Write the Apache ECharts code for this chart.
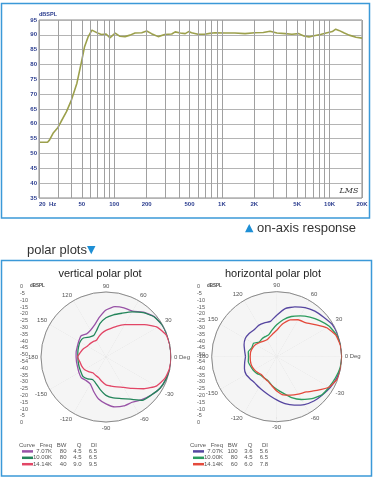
<!DOCTYPE html>
<html><head><meta charset="utf-8">
<script src="https://cdn.jsdelivr.net/npm/echarts@6/dist/echarts.min.js"></script>
<style>html,body{margin:0;padding:0;background:#fff}#c{width:375px;height:481px}</style>
</head><body><div id="c"></div>
<script>
// ---------- on-axis response ----------
const freqs = [20,24,25,27,30,32,36,40,45,50,53,57,62,64,71,76,84,91,102,113,126,140,156,180,200,222,256,294,342,368,410,456,491,522,600,690,772,862,1070,1320,1640,2020,2420,2800,3240,3870,4470,5170,5770,6430,7170,8220,9500,10600,11400,12200,13700,15200,17600,20000];
const spl = [53.8,53.8,54.5,56.8,58.8,60.7,64.1,68,73.7,81.5,86,89.2,91.6,91.9,90.5,90.1,90.3,89,90.6,89.5,89.4,89.9,90.6,90.7,91.3,90.4,89.4,90.1,90.3,91,90.6,90.4,91.1,90.7,90.2,90.2,90.5,90.7,90.6,90.6,90.4,90.7,90.8,91.2,90.6,90.4,90.2,90.4,89.6,89.3,89.7,90.1,90.7,91.1,91.9,91.5,90.6,89.9,89.2,88.9];
const gridFreqs = [20,30,40,50,60,70,80,90,100,200,300,400,500,600,700,800,900,1000,2000,3000,4000,5000,6000,7000,8000,9000,10000,20000];
const labelFreqs = [20,50,100,200,500,1000,2000,5000,10000,20000];
const labelTexts = ['20  Hz','50','100','200','500','1K','2K','5K','10K','20K'];

// ---------- polar plots ----------
const polarAngles = [-180,-170,-160,-150,-140,-130,-120,-110,-100,-90,-80,-70,-60,-50,-40,-30,-20,-10,0,10,20,30,40,50,60,70,80,90,100,110,120,130,140,150,160,170,180];
const vert7k  = [-27,-27,-26.8,-26,-25.2,-26.3,-26,-22,-17.2,-14,-11,-9.9,-9.8,-7.2,-4.5,-2,-0.8,0,0,0,0,-0.3,-1.6,-5,-9.3,-9.7,-10.7,-13.8,-19.3,-24,-26.2,-26.8,-24.8,-25.8,-26.5,-26.7,-27];
const vert10k = [-28.3,-28.3,-28,-27.6,-26.8,-28,-29.8,-28,-24.5,-20.5,-18,-16,-12.5,-6.5,-4.5,-2,-0.8,0,0,0,0,-0.3,-1.8,-5.5,-10,-14.2,-17,-19.8,-23.8,-28.5,-31,-30,-27.3,-26.9,-27.5,-28,-28.3];
const vert14k = [-28,-29.5,-30,-30.8,-32.5,-34.2,-33.8,-33.2,-31,-28.5,-27.3,-25.5,-23,-18.5,-12,-5.3,-1.8,-0.3,0,0,-0.6,-4.3,-11.3,-17.4,-21.3,-24.7,-27.6,-29.5,-31.5,-33.5,-35.2,-34.6,-34,-33.4,-31.5,-30,-28];
const horiz7k  = [-26,-25,-23.6,-22.8,-23.4,-23.7,-22.8,-21.5,-19.5,-16.8,-13.3,-10.4,-7.5,-5.5,-4.2,-2.5,-1,-0.2,0,0,0,-0.6,-2.8,-4.3,-6.4,-9.2,-12.4,-18.1,-22.4,-22.3,-22.2,-23,-22.3,-22.1,-23.3,-25,-26];
const horiz10k = [-28.3,-27.8,-28.6,-29.2,-30,-31.2,-31,-30.4,-27.8,-25,-21.5,-16.5,-12,-7.8,-4.5,-3.4,-2,-0.5,0,0,-1,-3.3,-6.8,-10.3,-13.8,-17.1,-21.1,-25.5,-29.2,-32,-32.2,-32.2,-32.5,-29.4,-29.7,-27.8,-28.3];
const horiz14k = [-29.6,-29.5,-29.5,-30.1,-31,-31.9,-31,-30,-27.5,-23.7,-20.2,-18.6,-16.8,-14.6,-9.6,-3.3,-0.3,0,0,-0.2,-1.6,-5.5,-11.6,-15.7,-17.2,-19.8,-24.5,-29.6,-32.3,-34,-35,-34.4,-33,-31.3,-30.3,-29.6,-29.6];
const dbScaleLabels = ['0','-5','-10','-15','-20','-25','-30','-35','-40','-45','-50','-54','-40','-35','-30','-25','-20','-15','-10','-5','0'];

// ---------- curve tables ----------
const tableHeader = ['Curve','Freq','BW','Q','DI'];
const curveFreqs = ['7.07K','10.00K','14.14K'];
const vertBW = ['80','80','40'], vertQ = ['4.5','4.5','9.0'], vertDI = ['6.5','6.5','9.5'];
const horizBW = ['100','80','60'], horizQ = ['3.6','4.5','6.0'], horizDI = ['5.6','6.5','7.8'];
const vertColors = ['#9852a6','#23855a','#e24666'];
const horizColors = ['#5646a0','#2c9c5e','#e44a3c'];

const FONT = '"Liberation Sans", Arial, sans-serif';
const NAVY = '#2a3c8e';

function tableText(bw, q, di) {
  let s = `{c|${tableHeader[0]}}{fh|${tableHeader[1]}}{b|${tableHeader[2]}}{q|${tableHeader[3]}}{d|${tableHeader[4]}}`;
  for (let i = 0; i < curveFreqs.length; i++) {
    s += `\n{s${i}|}{f|${curveFreqs[i]}}{b|${bw[i]}}{q|${q[i]}}{d|${di[i]}}`;
  }
  return s;
}
function tableRich(colors) {
  const base = {fontSize: 6, fontFamily: FONT, fill: '#555', lineHeight: 6.4, align: 'right'};
  const r = {
    c: Object.assign({}, base, {width: 13}),
    fh: Object.assign({}, base, {width: 17}),
    f: Object.assign({}, base, {width: 19}),
    b: Object.assign({}, base, {width: 14.5}),
    q: Object.assign({}, base, {width: 15}),
    d: Object.assign({}, base, {width: 15.5})
  };
  colors.forEach((col, i) => { r['s' + i] = {width: 11, height: 2.5, backgroundColor: col, align: 'right', lineHeight: 6.4}; });
  return r;
}

const chart = echarts.init(document.getElementById('c'), null, {renderer: 'canvas', width: 375, height: 481});

function polarAngle(idx) {
  return {
    polarIndex: idx, type: 'value', min: -180, max: 180, interval: 30,
    startAngle: 180, clockwise: false,
    axisLine: {lineStyle: {color: '#8a8a8a', width: 1}},
    axisTick: {show: false},
    splitLine: {lineStyle: {color: '#c6c6c6', width: 0.8}},
    splitArea: {show: true, areaStyle: {color: ['#f5f5f5', '#f5f5f5']}},
    axisLabel: {fontSize: 6, color: '#555', fontFamily: FONT, margin: 3,
      formatter: v => v === 180 ? '' : (v === 0 ? '0 Deg' : String(v))}
  };
}
function polarRadius(idx) {
  return {
    polarIndex: idx, type: 'value', min: -50, max: 0, interval: 5,
    axisLine: {show: false}, axisTick: {show: false}, axisLabel: {show: false},
    splitLine: {lineStyle: {color: '#d2d2d2', width: 0.8}}
  };
}
function polarSeries(idx, vals, color, name) {
  return {
    name, type: 'line', coordinateSystem: 'polar', polarIndex: idx,
    symbol: 'none', smooth: 0.15,
    lineStyle: {color, width: 1.3}, itemStyle: {color},
    data: polarAngles.map((a, i) => [vals[i], a])
  };
}
function scaleAxis(gi) {
  return {
    type: 'value', gridIndex: gi, min: 0, max: dbScaleLabels.length - 1, interval: 1, inverse: true,
    axisLine: {show: false}, axisTick: {show: false}, splitLine: {show: false},
    axisLabel: {inside: true, margin: 0, fontSize: 5.5, color: '#555', fontFamily: FONT,
      formatter: v => dbScaleLabels[v] !== undefined ? dbScaleLabels[v] : ''}
  };
}

const option = {
  animation: false,
  backgroundColor: '#fff',
  grid: [
    {left: 39, top: 20, width: 323, height: 178, show: true, borderColor: '#888', borderWidth: 1, backgroundColor: 'transparent'},
    {left: 20, top: 286.7, width: 1, height: 136},
    {left: 197, top: 286.7, width: 1, height: 136}
  ],
  xAxis: [
    {type: 'log', logBase: 10, min: 20, max: 20000, gridIndex: 0,
      axisLine: {show: false}, axisTick: {show: false}, axisLabel: {show: false}, splitLine: {show: false}},
    {type: 'value', gridIndex: 1, show: false},
    {type: 'value', gridIndex: 2, show: false}
  ],
  yAxis: [
    {type: 'value', gridIndex: 0, min: 35, max: 95, interval: 5,
      name: 'dBSPL', nameLocation: 'end', nameGap: 3,
      nameTextStyle: {fontSize: 5.5, fontWeight: 'bold', color: NAVY, align: 'left', fontFamily: FONT},
      axisLine: {show: false}, axisTick: {show: false},
      splitLine: {lineStyle: {color: '#b4b4b4', width: 1}},
      axisLabel: {fontSize: 6, fontWeight: 'bold', color: NAVY, margin: 2, fontFamily: FONT}},
    scaleAxis(1),
    scaleAxis(2)
  ],
  polar: [
    {center: [106, 357], radius: 65},
    {center: [276.7, 356.7], radius: 65}
  ],
  angleAxis: [polarAngle(0), polarAngle(1)],
  radiusAxis: [polarRadius(0), polarRadius(1)],
  series: [
    {
      name: 'on-axis', type: 'line', xAxisIndex: 0, yAxisIndex: 0, symbol: 'none',
      lineStyle: {color: '#9ca04c', width: 1.6}, itemStyle: {color: '#9ca04c'},
      data: freqs.map((f, i) => [f, spl[i]]),
      markLine: {
        silent: true, symbol: ['none', 'none'], animation: false,
        lineStyle: {color: '#a0a0a0', width: 1, type: 'solid'},
        label: {show: false},
        emphasis: {disabled: true},
        data: gridFreqs.map(f => {
          const k = labelFreqs.indexOf(f);
          if (k < 0) return {xAxis: f};
          const lab = {show: true, position: 'start', formatter: '{b}', distance: 3,
            fontSize: 6, fontWeight: 'bold', color: NAVY, fontFamily: FONT};
          if (f === labelFreqs[0]) lab.align = 'left';
          return {xAxis: f, name: labelTexts[k], label: lab};
        })
      }
    },
    polarSeries(0, vert7k, vertColors[0], 'v7.07K'),
    polarSeries(0, vert10k, vertColors[1], 'v10.00K'),
    polarSeries(0, vert14k, vertColors[2], 'v14.14K'),
    polarSeries(1, horiz7k, horizColors[0], 'h7.07K'),
    polarSeries(1, horiz10k, horizColors[1], 'h10.00K'),
    polarSeries(1, horiz14k, horizColors[2], 'h14.14K')
  ],
  graphic: [
    {type: 'rect', silent: true, z: -10, shape: {x: 1.5, y: 3.5, width: 368, height: 214.5}, style: {fill: 'none', stroke: '#3b99d8', lineWidth: 1.5}},
    {type: 'rect', silent: true, z: -10, shape: {x: 1.5, y: 260.5, width: 370, height: 215.5}, style: {fill: 'none', stroke: '#3b99d8', lineWidth: 1.5}},
    {type: 'text', x: 245, y: 228, style: {text: '{t|▲} on-axis response', fontSize: 13, fontFamily: FONT, fill: '#333', verticalAlign: 'middle', align: 'left',
      rich: {t: {fontSize: 11, fill: '#1e8fd5', fontFamily: 'DejaVu Sans'}}}},
    {type: 'text', x: 27, y: 250, style: {text: 'polar plots{t|▼}', fontSize: 13, fontFamily: FONT, fill: '#333', verticalAlign: 'middle', align: 'left',
      rich: {t: {fontSize: 11, fill: '#1e8fd5', fontFamily: 'DejaVu Sans'}}}},
    {type: 'text', x: 100, y: 274, style: {text: 'vertical polar plot', fontSize: 11, fontFamily: FONT, fill: '#222', align: 'center', verticalAlign: 'middle'}},
    {type: 'text', x: 273, y: 274, style: {text: 'horizontal polar plot', fontSize: 11, fontFamily: FONT, fill: '#222', align: 'center', verticalAlign: 'middle'}},
    {type: 'text', x: 349, y: 191, style: {text: 'LMS', fontSize: 8, fontStyle: 'italic', fontFamily: 'DejaVu Serif', fill: '#333', align: 'center', verticalAlign: 'middle'}},
    {type: 'text', x: 30, y: 286, style: {text: 'dBSPL', fontSize: 4.5, fontWeight: 'bold', fontFamily: FONT, fill: '#444', align: 'left', verticalAlign: 'middle'}},
    {type: 'text', x: 207, y: 286, style: {text: 'dBSPL', fontSize: 4.5, fontWeight: 'bold', fontFamily: FONT, fill: '#444', align: 'left', verticalAlign: 'middle'}},
    {type: 'text', x: 106, y: 419.5, style: {text: 'dBSPL', fontSize: 4.5, fontWeight: 'bold', fontFamily: FONT, fill: '#444', align: 'center', verticalAlign: 'middle'}},
    {type: 'text', x: 277, y: 419.5, style: {text: 'dBSPL', fontSize: 4.5, fontWeight: 'bold', fontFamily: FONT, fill: '#444', align: 'center', verticalAlign: 'middle'}},
    {type: 'text', x: 22, y: 441.8, style: {text: tableText(vertBW, vertQ, vertDI), rich: tableRich(vertColors), fontSize: 6, lineHeight: 6.4, fontFamily: FONT, fill: '#555', align: 'left', verticalAlign: 'top'}},
    {type: 'text', x: 193, y: 441.8, style: {text: tableText(horizBW, horizQ, horizDI), rich: tableRich(horizColors), fontSize: 6, lineHeight: 6.4, fontFamily: FONT, fill: '#555', align: 'left', verticalAlign: 'top'}}
  ]
};
chart.setOption(option);
</script>
</body></html>
